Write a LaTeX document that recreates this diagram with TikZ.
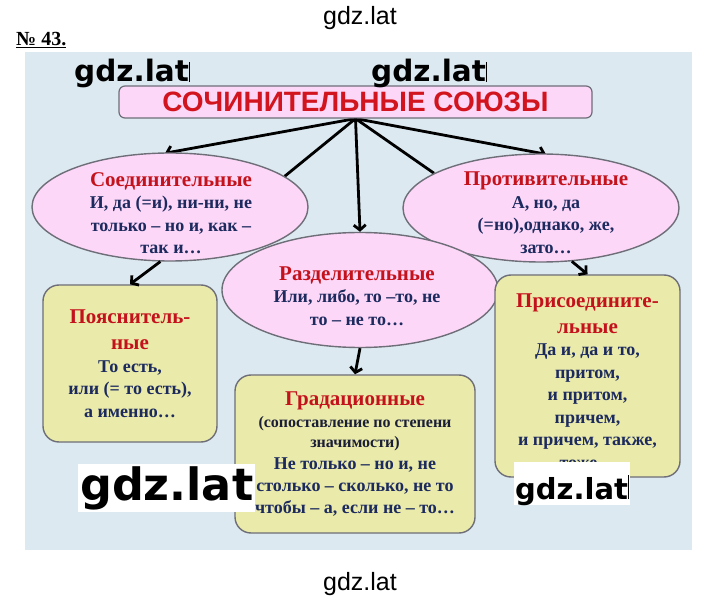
\documentclass[tikz,border=0pt]{standalone}
\usepackage{fontspec}
\setmainfont{Liberation Serif}
\setsansfont{Liberation Sans}
\newfontfamily\markfont{DejaVu Sans}
\usepackage{xcolor}
\usepackage{tikz}
\usetikzlibrary{shapes}
\usetikzlibrary{arrows.meta}

\definecolor{panelblue}{HTML}{DCE9F0}
\definecolor{ovalpink}{HTML}{FDD7F8}
\definecolor{boxyellow}{HTML}{EAEBAA}
\definecolor{edgegrey}{HTML}{6E6E78}
\definecolor{titlered}{HTML}{D2141E}
\definecolor{headred}{HTML}{C4121C}
\definecolor{inknavy}{HTML}{1C2A5E}
\definecolor{inkdark}{HTML}{1A1E36}

\newcommand{\kindname}[1]{{\color{headred}\fontsize{21}{22.5}\selectfont #1}}
\newcommand{\gradnote}[1]{{\color{inkdark}\fontsize{16}{20}\selectfont #1}}

\pgfdeclarelayer{back}
\pgfdeclarelayer{wires}
\pgfsetlayers{back,wires,main}

\begin{document}
\begin{tikzpicture} [
            x = 1pt, y = -1pt,
            % ----- Node definitions ----- %
            titlenode/.style = {
                draw = edgegrey,
                line width = 1.2pt,
                rectangle,
                rounded corners = 6pt,
                fill = ovalpink,
                minimum width = 473pt,
                minimum height = 32pt,
                inner sep = 0pt,
                text = titlered,
                font = \sffamily\bfseries\fontsize{28}{28}\selectfont
            },
            ovalnode/.style = {
                draw = edgegrey,
                line width = 1.4pt,
                ellipse,
                fill = ovalpink,
                minimum width = 276pt,
                minimum height = #1,
                inner sep = 0pt
            },
            ovaltext/.style = {
                align = center,
                inner sep = 0pt,
                text = inknavy,
                font = \bfseries\fontsize{18}{22.5}\selectfont
            },
            notebox/.style = {
                draw = edgegrey,
                line width = 1.4pt,
                rectangle,
                rounded corners = 16pt,
                fill = boxyellow,
                align = center,
                inner sep = 0pt,
                text = inknavy,
                font = \bfseries\fontsize{18}{22.5}\selectfont
            },
            linkline/.style = {
                line width = 2.8pt,
                -{Straight Barb[length=5pt,width=12pt]}
            },
            watermark/.style = {
                inner sep = 0pt,
                font = \markfont\bfseries\fontsize{#1}{#1}\selectfont
            },
    ]
    \useasboundingbox (0,0) rectangle (720,601);

            % ----- Page marks ----- %
        \node [anchor=base, inner sep=0pt, font=\sffamily\fontsize{25}{25}\selectfont] (sitetop) at (360,25) {gdz.lat};
        \node [anchor=base west, inner sep=0pt, font=\bfseries\fontsize{20}{20}\selectfont] (number) at (16,46) {\underline{№ 43.}};
        \node [anchor=base, inner sep=0pt, font=\sffamily\fontsize{25}{25}\selectfont] (sitebottom) at (360,590) {gdz.lat};

        \begin{pgfonlayer}{back}
            \fill [panelblue] (25,52) rectangle (692,550);
        \end{pgfonlayer}

            % ----- Node constructions ----- %
        \node [titlenode] (title) at (355.5,102) {СОЧИНИТЕЛЬНЫЕ СОЮЗЫ};

        \node [ovalnode=108pt] (joining) at (170,207) {};
        \node [ovalnode=108pt] (opposing) at (541,208) {};
        \node [ovalnode=115pt] (dividing) at (360,290) {};

        \node [ovaltext] (joininglabel) at (171,213) {
            \kindname{Соединительные} \\
            И, да (=и), ни-ни, не \\
            только – но и, как – \\
            так и…
        };
        \node [ovaltext] (opposinglabel) at (546,213) {
            \kindname{Противительные} \\
            А, но, да \\
            (=но),однако, же, \\
            зато…
        };
        \node [ovaltext] (dividinglabel) at (357,296) {
            \kindname{Разделительные} \\
            Или, либо, то –то, не \\
            то – не то…
        };

        \node [notebox, minimum width=174pt, minimum height=157pt] (explaining) at (130,363.5) {
            \kindname{Пояснитель-} \\[4pt]
            \kindname{ные} \\
            То есть, \\
            или (= то есть), \\
            а именно…
        };
        \node [notebox, minimum width=240pt, minimum height=158pt, font=\bfseries\fontsize{18}{22}\selectfont] (grading) at (355,454) {
            \kindname{Градационные} \\
            \gradnote{(сопоставление по степени} \\[-2pt]
            \gradnote{значимости)} \\
            Не только – но и, не \\
            столько – сколько, не то \\
            чтобы – а, если не – то…
        };
        \node [notebox, minimum width=185pt, minimum height=202pt, font=\bfseries\fontsize{18}{22.5}\selectfont] (adding) at (587.5,376) {
            \rule{0pt}{24pt}\kindname{Присоедините-} \\[3pt]
            \kindname{льные} \\
            Да и, да и то, \\
            притом, \\
            и притом, \\
            причем, \\
            и причем, также, \\
            тоже…
        };

            % ----- Connections ----- %
        \begin{pgfonlayer}{wires}
            \draw [linkline, shorten >=-5pt] (title.south) -- (joining.north);
            \draw [line width=2.8pt] (title.south) -- (joining.15);
            \draw [line width=2.8pt] (title.south) -- (opposing.162);
            \draw [linkline, shorten >=-5pt] (title.south) -- (opposing.north);
        \end{pgfonlayer}
        \draw [linkline] (title.south) -- (dividing.north);
        \draw [linkline] (joining.260) -- (explaining.north);
        \draw [linkline] (dividing.south) -- (grading.north);
        \draw [linkline] (opposing.300) -- (adding.north);

            % ----- Watermarks ----- %
        \node [watermark=29.5, anchor=base west] (markleft) at (74,82) {gdz.lat\rule[0pt]{1.5pt}{20pt}};
        \node [watermark=29.5, anchor=base west] (markmiddle) at (371,82) {gdz.lat\rule[0pt]{1.5pt}{20pt}};
        \node [watermark=44.5, anchor=base west, fill=white, inner sep=2pt] (markbig) at (78,500) {gdz.lat};
        \node [watermark=29, anchor=base west, fill=white, inner xsep=1pt, text height=37pt] (markright) at (514,499) {gdz.lat\rule[0pt]{1.5pt}{24pt}};

\end{tikzpicture}
\end{document}
